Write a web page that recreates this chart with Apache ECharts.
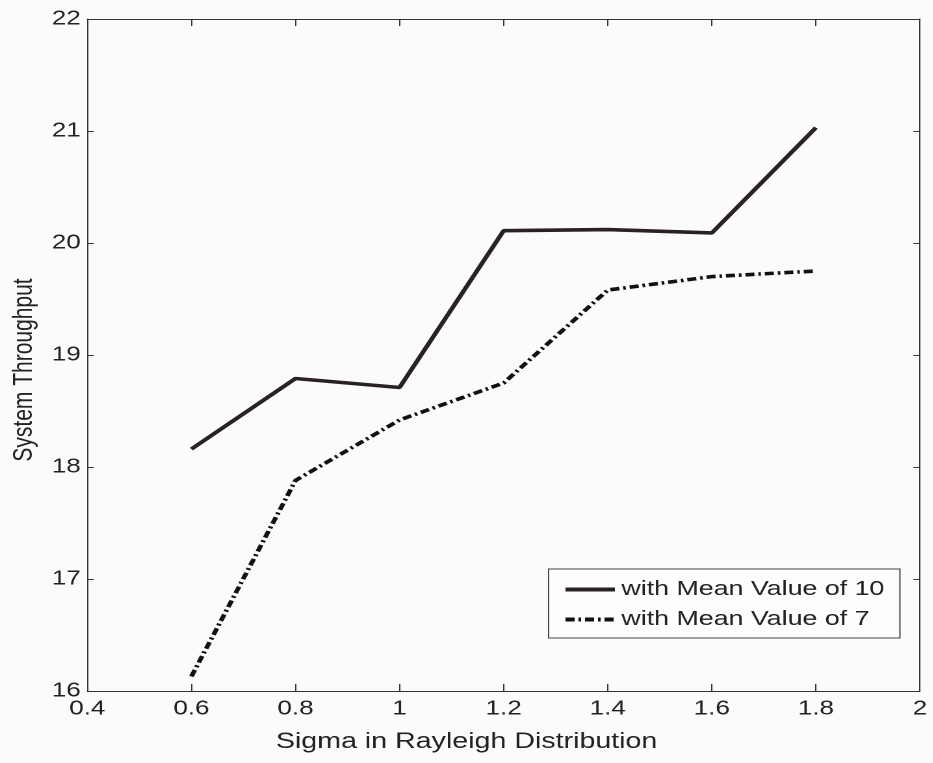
<!DOCTYPE html>
<html>
<head>
<meta charset="utf-8">
<script src="https://cdn.jsdelivr.net/npm/echarts@6/dist/echarts.min.js"></script>
<style>
html,body{margin:0;padding:0;background:#fbfbfb;overflow:hidden;}
#wrap{width:933px;height:763px;overflow:hidden;}
/* the reference's typeface is drawn wide: render at 1/1.3 width and stretch horizontally */
#c{width:718px;height:763px;transform:scaleX(1.3);transform-origin:0 0;}
</style>
</head>
<body>
<div id="wrap"><div id="c"></div></div>
<script>
var sigma = [0.6, 0.8, 1.0, 1.2, 1.4, 1.6, 1.8];
var mean10 = [18.16, 18.79, 18.71, 20.11, 20.12, 20.09, 21.03];
var mean7 = [16.13, 17.88, 18.42, 18.75, 19.58, 19.70, 19.75];
var xTicks = ['0.4','0.6','0.8','1','1.2','1.4','1.6','1.8','2'];
var yTicks = ['16','17','18','19','20','21','22'];
var seriesNames = ['with Mean Value of 10', 'with Mean Value of 7'];

function pairs(xs, ys){ return xs.map(function(x,i){ return [x, ys[i]]; }); }

var font = 'Liberation Sans, Arial, sans-serif';
var axisLine = {show:true, lineStyle:{color:'#333', width:1}};
var chart = echarts.init(document.getElementById('c'), null, {renderer:'canvas', devicePixelRatio:2});
chart.setOption({
  backgroundColor:'#fbfbfb',
  animation:false,
  grid:{left:59.2, top:19, width:648.5, height:672, containLabel:false},
  legend:{
    orient:'vertical', left:422, top:569,
    data:seriesNames,
    itemWidth:38, itemHeight:14, itemGap:9,
    padding:[10,12,8,11],
    borderColor:'#444', borderWidth:1, backgroundColor:'#fdfdfd',
    itemStyle:{opacity:0},
    lineStyle:{width:4},
    textStyle:{fontFamily:font, fontSize:20.6, color:'#222'}
  },
  xAxis:[{
    type:'value', min:0.4, max:2, interval:0.2,
    name:'Sigma in Rayleigh Distribution', nameLocation:'middle', nameGap:40,
    nameTextStyle:{fontFamily:font, fontSize:22, color:'#222', padding:[0,57,0,0]},
    axisLine:axisLine,
    axisTick:{show:true, inside:true, length:7, lineStyle:{color:'#333'}},
    axisLabel:{fontFamily:font, fontSize:20, color:'#222', margin:8,
      formatter:function(v){ var i=Math.round((v-0.4)/0.2); return xTicks[i]; }},
    splitLine:{show:false}
  },{
    type:'value', position:'top', min:0.4, max:2, interval:0.2,
    axisLine:axisLine,
    axisTick:{show:true, inside:true, length:7, lineStyle:{color:'#333'}},
    axisLabel:{show:false}, splitLine:{show:false}
  }],
  yAxis:[{
    type:'value', min:16, max:22, interval:1,
    name:'System Throughput', nameLocation:'middle', nameGap:36,
    nameTextStyle:{fontFamily:font, fontSize:21, color:'#222', padding:[0,30,0,0]},
    axisLine:axisLine,
    axisTick:{show:true, inside:true, length:5, lineStyle:{color:'#333'}},
    axisLabel:{fontFamily:font, fontSize:20, color:'#222', margin:5,
      formatter:function(v){ return yTicks[Math.round(v-16)]; }},
    splitLine:{show:false}
  },{
    type:'value', position:'right', min:16, max:22, interval:1,
    axisLine:axisLine,
    axisTick:{show:true, inside:true, length:5, lineStyle:{color:'#333'}},
    axisLabel:{show:false}, splitLine:{show:false}
  }],
  series:[{
    name:seriesNames[0], type:'line', data:pairs(sigma, mean10),
    showSymbol:false, symbol:'none',
    lineStyle:{color:'#2a2222', width:3.6, type:'solid'},
    itemStyle:{color:'#2a2222'}
  },{
    name:seriesNames[1], type:'line', data:pairs(sigma, mean7),
    showSymbol:false, symbol:'none',
    lineStyle:{color:'#111', width:3.6, type:[7,3,2,3], cap:'butt'},
    itemStyle:{color:'#111'}
  }]
});
</script>
</body>
</html>
